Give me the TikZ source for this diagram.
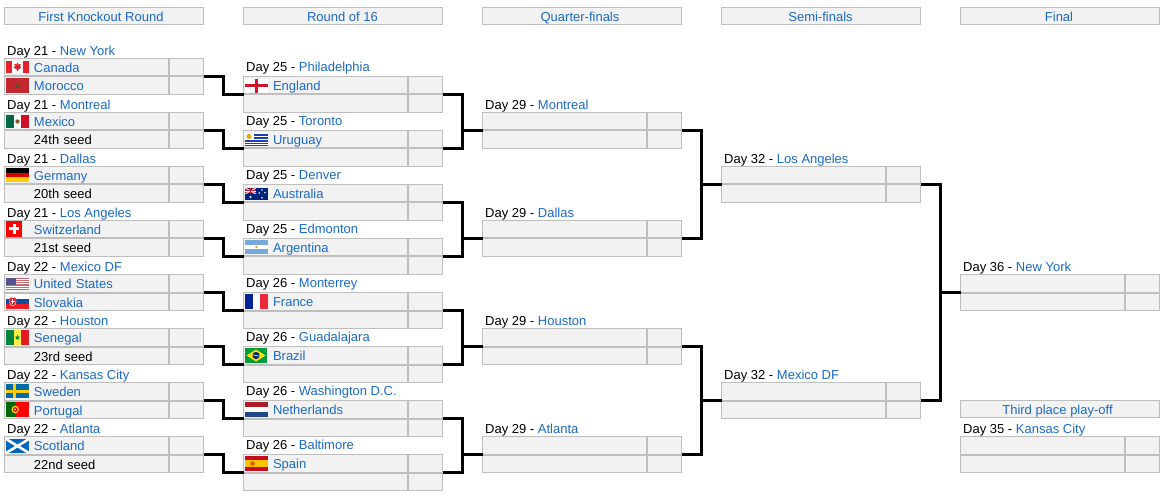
\documentclass[tikz,border=0pt]{standalone}
\usepackage{fontspec}
\setmainfont{Liberation Sans}
\definecolor{lnk}{HTML}{1B6AC6}
\definecolor{bord}{HTML}{BEBEBE}
\definecolor{cellbg}{HTML}{F2F2F2}
\definecolor{caR}{HTML}{E8202A}
\definecolor{maR}{HTML}{C1272D}
\definecolor{maG}{HTML}{3D5A2A}
\definecolor{mxG}{HTML}{006847}
\definecolor{mxR}{HTML}{CE1126}
\definecolor{deR}{HTML}{DD0000}
\definecolor{deY}{HTML}{FFCE00}
\definecolor{usR}{HTML}{C06A72}
\definecolor{usB}{HTML}{55558A}
\definecolor{skB}{HTML}{0B4EA2}
\definecolor{skR}{HTML}{EE1C25}
\definecolor{snG}{HTML}{00853F}
\definecolor{snY}{HTML}{FDEF42}
\definecolor{snR}{HTML}{E31B23}
\definecolor{seB}{HTML}{006AA7}
\definecolor{seY}{HTML}{FECC00}
\definecolor{ptG}{HTML}{006600}
\definecolor{scB}{HTML}{0065BD}
\definecolor{enR}{HTML}{CF142B}
\definecolor{uyB}{HTML}{1E3FAE}
\definecolor{uyY}{HTML}{E0A92E}
\definecolor{auB}{HTML}{00247D}
\definecolor{arB}{HTML}{75AADB}
\definecolor{frB}{HTML}{002395}
\definecolor{frR}{HTML}{ED2939}
\definecolor{brG}{HTML}{009B3A}
\definecolor{brY}{HTML}{FEDF00}
\definecolor{brB}{HTML}{002776}
\definecolor{nlR}{HTML}{AE1C28}
\definecolor{nlB}{HTML}{21468B}
\definecolor{esR}{HTML}{C60B1E}
\definecolor{esY}{HTML}{FFC400}
\tikzset{
  cell/.style={draw=bord,fill=cellbg,line width=1pt,inner sep=0pt,outer sep=0pt,anchor=north west,
    minimum height=17.5pt,text height=12.5pt,text depth=2pt,font=\fontsize{13}{15}\selectfont},
  teamcell/.style={cell,text width=164pt,align=left},
  scorecell/.style={cell,minimum width=34pt},
  headcell/.style={cell,minimum width=199pt,minimum height=17pt,text=lnk},
  daylabel/.style={anchor=base west,inner sep=0pt,font=\fontsize{13}{15}\selectfont},
  conn/.style={draw=black,line width=3pt,line join=miter,line cap=butt}
}
\newcommand{\lk}[1]{\textcolor{lnk}{#1}}
\newcommand{\matchbox}[8]{%
  \node[teamcell] (#1a) at (#2,#3) {\hspace*{29.5pt}#7};
  \node[scorecell] (#1as) at (#2+165,#3) {};
  \node[teamcell] (#1b) at (#2,#3+18.5) {\hspace*{29.5pt}#8};
  \node[scorecell] (#1bs) at (#2+165,#3+18.5) {};
  \node[daylabel] (#1d) at (#2+2.5,#3-#4) {Day #5 - \lk{#6}};
  \coordinate (#1l) at (#2,#3+18);
  \coordinate (#1r) at (#2+199,#3+18);
}
\newcommand{\flr}[5]{\fill[#1] (#2,#3) rectangle (#4,#5);}
\newcommand{\fivestar}[4]{\fill[#1] (#2,#3-#4) -- (#2+.22*#4,#3-.31*#4) -- (#2+.95*#4,#3-.31*#4) -- (#2+.36*#4,#3+.12*#4) -- (#2+.59*#4,#3+.81*#4) -- (#2,#3+.38*#4) -- (#2-.59*#4,#3+.81*#4) -- (#2-.36*#4,#3+.12*#4) -- (#2-.95*#4,#3-.31*#4) -- (#2-.22*#4,#3-.31*#4) -- cycle;}
\begin{document}
\begin{tikzpicture}[x=1pt,y=-1pt]
\useasboundingbox (0,0) rectangle (1165,497);
\fill[white] (0,0) rectangle (1165,497);
% headers
\node[headcell] (h1) at (4.5,7.5) {\kern-6pt First Knockout Round};
\node[headcell] (h2) at (243.5,7.5) {\kern-1pt Round of 16};
\node[headcell] (h3) at (482.5,7.5) {\kern-4pt Quarter-finals};
\node[headcell] (h4) at (721.5,7.5) {\kern-1pt Semi-finals};
\node[headcell] (h5) at (960.5,7.5) {\kern-2pt Final};
\node[headcell] (h6) at (960.5,400.5) {\kern-5pt Third place play-off};
% first round
\matchbox{a1}{4.5}{58.5}{2.8}{21}{New York}{\lk{Canada}}{\lk{Morocco}}
\matchbox{a2}{4.5}{112.5}{2.8}{21}{Montreal}{\lk{Mexico}}{24th seed}
\matchbox{a3}{4.5}{166.5}{2.8}{21}{Dallas}{\lk{Germany}}{20th seed}
\matchbox{a4}{4.5}{220.5}{2.8}{21}{Los Angeles}{\lk{Switzerland}}{21st seed}
\matchbox{a5}{4.5}{274.5}{2.8}{22}{Mexico DF}{\lk{United States}}{\lk{Slovakia}}
\matchbox{a6}{4.5}{328.5}{2.8}{22}{Houston}{\lk{Senegal}}{23rd seed}
\matchbox{a7}{4.5}{382.5}{2.8}{22}{Kansas City}{\lk{Sweden}}{\lk{Portugal}}
\matchbox{a8}{4.5}{436.5}{2.8}{22}{Atlanta}{\lk{Scotland}}{22nd seed}
% round of 16
\matchbox{b1}{243.5}{76.5}{4.8}{25}{Philadelphia}{\lk{England}}{}
\matchbox{b2}{243.5}{130.5}{4.8}{25}{Toronto}{\lk{Uruguay}}{}
\matchbox{b3}{243.5}{184.5}{4.8}{25}{Denver}{\lk{Australia}}{}
\matchbox{b4}{243.5}{238.5}{4.8}{25}{Edmonton}{\lk{Argentina}}{}
\matchbox{b5}{243.5}{292.5}{4.8}{26}{Monterrey}{\lk{France}}{}
\matchbox{b6}{243.5}{346.5}{4.8}{26}{Guadalajara}{\lk{Brazil}}{}
\matchbox{b7}{243.5}{400.5}{4.8}{26}{Washington D.C.}{\lk{Netherlands}}{}
\matchbox{b8}{243.5}{454.5}{4.8}{26}{Baltimore}{\lk{Spain}}{}
% quarter-finals
\matchbox{c1}{482.5}{112.5}{2.8}{29}{Montreal}{}{}
\matchbox{c2}{482.5}{220.5}{2.8}{29}{Dallas}{}{}
\matchbox{c3}{482.5}{328.5}{2.8}{29}{Houston}{}{}
\matchbox{c4}{482.5}{436.5}{2.8}{29}{Atlanta}{}{}
% semi-finals
\matchbox{d1}{721.5}{166.5}{2.8}{32}{Los Angeles}{}{}
\matchbox{d2}{721.5}{382.5}{2.8}{32}{Mexico DF}{}{}
% final and third place
\matchbox{e1}{960.5}{274.5}{2.8}{36}{New York}{}{}
\matchbox{e2}{960.5}{436.5}{2.8}{35}{Kansas City}{}{}
% connectors
\foreach \i in {1,...,8}{\draw[conn] (a\i r) -- ++(20,0) |- (b\i l);}
\draw[conn] (b1r) -- ++(20,0) |- (c1l);
\draw[conn] (b2r) -- ++(20,0) |- (c1l);
\draw[conn] (b3r) -- ++(20,0) |- (c2l);
\draw[conn] (b4r) -- ++(20,0) |- (c2l);
\draw[conn] (b5r) -- ++(20,0) |- (c3l);
\draw[conn] (b6r) -- ++(20,0) |- (c3l);
\draw[conn] (b7r) -- ++(20,0) |- (c4l);
\draw[conn] (b8r) -- ++(20,0) |- (c4l);
\draw[conn] (c1r) -- ++(20,0) |- (d1l);
\draw[conn] (c2r) -- ++(20,0) |- (d1l);
\draw[conn] (c3r) -- ++(20,0) |- (d2l);
\draw[conn] (c4r) -- ++(20,0) |- (d2l);
\draw[conn] (d1r) -- ++(20,0) |- (e1l);
\draw[conn] (d2r) -- ++(20,0) |- (e1l);
% flags
\begin{scope}[shift={(6,61)}]% Canada
\flr{white}{0}{0}{23}{12}\flr{caR}{0}{0}{6}{12}\flr{caR}{17}{0}{23}{12}
\fill[caR] (11.5,1.5) -- (12.6,3.5) -- (14.8,3) -- (14,5.5) -- (15.5,6.5) -- (12,8.8) -- (12,10.5) -- (11,10.5) -- (11,8.8) -- (7.5,6.5) -- (9,5.5) -- (8.2,3) -- (10.4,3.5) -- cycle;
\end{scope}
\begin{scope}[shift={(6,78)}]% Morocco
\flr{maR}{0}{0}{23}{15}\fivestar{maG}{11.5}{7.5}{2.8}
\end{scope}
\begin{scope}[shift={(6,115)}]% Mexico
\flr{white}{0}{0}{23}{13}\flr{mxG}{0}{0}{7.7}{13}\flr{mxR}{15.3}{0}{23}{13}
\fill[brown!70!black] (11.5,6.5) circle (2.2);
\end{scope}
\begin{scope}[shift={(6,168)}]% Germany
\flr{black}{0}{0}{23}{4.7}\flr{deR}{0}{4.7}{23}{9.3}\flr{deY}{0}{9.3}{23}{14}
\end{scope}
\begin{scope}[shift={(6,221)}]% Switzerland
\flr{red}{0}{0}{16}{16}\flr{white}{6.5}{3}{9.5}{13}\flr{white}{3}{6.5}{13}{9.5}
\end{scope}
\begin{scope}[shift={(6,278)}]% United States
\flr{white}{0}{0}{23}{12}
\foreach \s in {0,2,...,12}{\flr{usR}{0}{\s*12/13}{23}{\s*12/13+12/13}}
\flr{usB}{0}{0}{10}{6.5}
\end{scope}
\begin{scope}[shift={(6,294)}]% Slovakia
\flr{white}{0}{0}{23}{5}\flr{skB}{0}{5}{23}{10}\flr{skR}{0}{10}{23}{15}
\fill[skR,draw=white] (3.5,3.5) -- (10,3.5) -- (10,8) .. controls (10,10.5) and (8,11.5) .. (6.8,12) .. controls (5.5,11.5) and (3.5,10.5) .. (3.5,8) -- cycle;
\flr{white}{6.2}{5}{7.4}{10}\flr{white}{5}{6.5}{8.6}{7.5}
\end{scope}
\begin{scope}[shift={(6,330)}]% Senegal
\flr{snG}{0}{0}{7.7}{15}\flr{snY}{7.7}{0}{15.3}{15}\flr{snR}{15.3}{0}{23}{15}
\fivestar{snG}{11.5}{7.5}{3}
\end{scope}
\begin{scope}[shift={(6,384)}]% Sweden
\flr{seB}{0}{0}{23}{14}\flr{seY}{6.5}{0}{10}{14}\flr{seY}{0}{5.5}{23}{8.5}
\end{scope}
\begin{scope}[shift={(6,402)}]% Portugal
\flr{ptG}{0}{0}{9.2}{15}\flr{red}{9.2}{0}{23}{15}
\fill[deY] (9.2,7.5) circle (3.8);\fill[deR] (9.2,7.5) circle (2.3);\fill[white] (9.2,7.5) circle (1);
\end{scope}
\begin{scope}[shift={(6,439)}]% Scotland
\flr{scB}{0}{0}{23}{14}
\begin{scope}\clip (0,0) rectangle (23,14);
\draw[white,line width=2.6pt] (0,0) -- (23,14) (0,14) -- (23,0);\end{scope}
\end{scope}
\begin{scope}[shift={(245,79)}]% England
\flr{white}{0}{0}{23}{14}\flr{enR}{10}{0}{13}{14}\flr{enR}{0}{5.5}{23}{8.5}
\end{scope}
\begin{scope}[shift={(245,133)}]% Uruguay
\flr{white}{0}{0}{23}{13}
\flr{uyB}{9}{1.2}{23}{2.8}\flr{uyB}{9}{4.1}{23}{5.7}
\flr{uyB}{0}{7}{23}{8.6}\flr{uyB}{0}{9.9}{23}{11.5}\flr{uyB}{0}{12}{23}{13}
\fill[uyY] (4,3.5) circle (2.6);
\end{scope}
\begin{scope}[shift={(245,188)}]% Australia
\flr{auB}{0}{0}{23}{12}
\begin{scope}\clip (0,0) rectangle (11,6);
\draw[white!70!red,line width=1.4pt] (0,0) -- (11,6) (0,6) -- (11,0);
\draw[white,line width=1.8pt] (5.5,0) -- (5.5,6) (0,3) -- (11,3);
\draw[enR,line width=1pt] (5.5,0) -- (5.5,6) (0,3) -- (11,3);
\end{scope}
\fivestar{white}{5.5}{9.2}{1.5}\fivestar{white}{17}{2}{1}\fivestar{white}{17}{9.8}{1}\fivestar{white}{14.2}{5}{1}\fivestar{white}{20}{4.5}{1}
\end{scope}
\begin{scope}[shift={(245,240)}]% Argentina
\flr{arB}{0}{0}{23}{14}\flr{white}{0}{4.7}{23}{9.3}
\fill[uyY] (11.5,7) circle (1.4);
\end{scope}
\begin{scope}[shift={(245,294)}]% France
\flr{white}{0}{0}{23}{15}\flr{frB}{0}{0}{7.7}{15}\flr{frR}{15.3}{0}{23}{15}
\end{scope}
\begin{scope}[shift={(245,348)}]% Brazil
\flr{brG}{0}{0}{22}{15}
\fill[brY] (11,1.5) -- (20.5,7.5) -- (11,13.5) -- (1.5,7.5) -- cycle;
\fill[brB] (11,7.5) circle (3.6);\draw[white,line width=.6pt] (7.6,6.8) -- (14.4,8.2);
\end{scope}
\begin{scope}[shift={(245,402)}]% Netherlands
\flr{white}{0}{0}{23}{15}\flr{nlR}{0}{0}{23}{5}\flr{nlB}{0}{10}{23}{15}
\end{scope}
\begin{scope}[shift={(245,456)}]% Spain
\flr{esR}{0}{0}{23}{15}\flr{esY}{0}{3.7}{23}{11.3}
\fill[esR!60!esY] (7.5,7.5) circle (2.3);
\end{scope}
\end{tikzpicture}
\end{document}
